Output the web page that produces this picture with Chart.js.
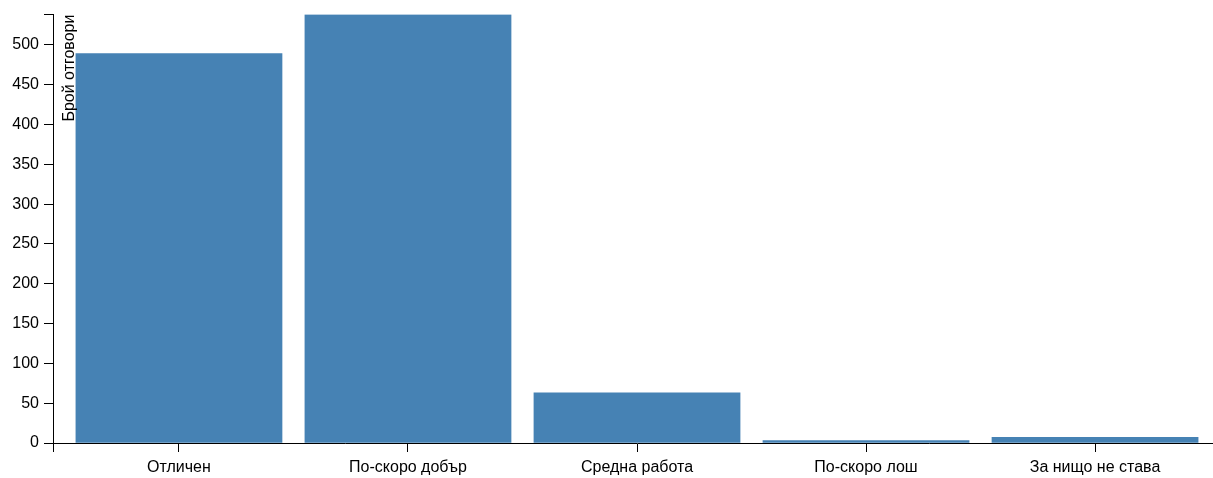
<!DOCTYPE html>
<html>
<head>
<meta charset="utf-8">
<script src="https://cdn.jsdelivr.net/npm/chart.js@4"></script>
<style>
    body { margin: 0; overflow: hidden; background: #fff; }
    #wrap { width: 1230px; height: 478px; position: relative; }
</style>
</head>
<body>
<div id="wrap"><canvas id="chart"></canvas></div>
<script>
// Data
const categories = ['Отличен', 'По-скоро добър', 'Средна работа', 'По-скоро лош', 'За нищо не става'];
const answers = [489, 538, 63, 3, 7];
const yTicks = [0, 50, 100, 150, 200, 250, 300, 350, 400, 450, 500];
const yTitle = 'Брой отговори';

// Layout (d3-like band scale: padding 0.1 inside and outside)
const LEFT = 53, TOP = 13, BOTTOM_H = 35, CANVAS_W = 1230, PLOT_RIGHT = 1221;
const PAD = 0.1;
const step = (PLOT_RIGHT - LEFT) / (categories.length + PAD);
const xMin = -(0.5 + PAD / 2);
const xMax = xMin + categories.length + PAD;
const yMax = Math.max(...answers);
const FONT = { family: '"Liberation Sans", Arial, sans-serif', size: 16 };

// y axis title drawn inside the plot, next to the axis, like the original
const yTitlePlugin = {
    id: 'yTitle',
    afterDatasetsDraw(chart) {
        const ctx = chart.ctx;
        const area = chart.chartArea;
        ctx.save();
        ctx.translate(area.left + 21, area.top);
        ctx.rotate(-Math.PI / 2);
        ctx.font = FONT.size + 'px ' + FONT.family;
        ctx.fillStyle = '#000';
        ctx.textAlign = 'right';
        ctx.textBaseline = 'alphabetic';
        ctx.fillText(yTitle, 0, 0);
        ctx.restore();
    }
};

const ctx = document.getElementById('chart').getContext('2d');
const chart = new Chart(ctx, {
    type: 'bar',
    data: {
        datasets: [{
            data: answers.map((v, i) => ({ x: i, y: v })),
            backgroundColor: '#4682b4',
            borderWidth: 0,
            barThickness: step * (1 - PAD)
        }]
    },
    options: {
        responsive: true,
        maintainAspectRatio: false,
        animation: false,
        layout: { padding: { top: TOP, right: CANVAS_W - PLOT_RIGHT, left: 0, bottom: 0 } },
        plugins: {
            legend: { display: false },
            tooltip: { enabled: false }
        },
        scales: {
            x: {
                type: 'linear',
                offset: false,
                min: xMin,
                max: xMax,
                afterBuildTicks: scale => {
                    scale.ticks = [xMin, ...categories.map((c, i) => i), xMax].map(v => ({ value: v }));
                },
                afterFit: scale => { scale.height = BOTTOM_H; },
                ticks: {
                    autoSkip: false,
                    maxRotation: 0,
                    color: '#000',
                    font: FONT,
                    padding: 6,
                    callback: v => Number.isInteger(v) ? categories[v] : ''
                },
                grid: { offset: false, drawOnChartArea: false, color: '#000', tickLength: 9 },
                border: { display: true, color: '#000', width: 1 }
            },
            y: {
                min: 0,
                max: yMax,
                afterBuildTicks: scale => {
                    scale.ticks = [...yTicks, yMax].map(v => ({ value: v }));
                },
                afterFit: scale => { scale.width = LEFT; },
                ticks: {
                    color: '#000',
                    font: FONT,
                    padding: 5,
                    callback: v => yTicks.includes(v) ? v : ''
                },
                grid: { drawOnChartArea: false, color: '#000', tickLength: 9 },
                border: { display: true, color: '#000', width: 1 }
            }
        }
    },
    plugins: [yTitlePlugin]
});
</script>
</body>
</html>
